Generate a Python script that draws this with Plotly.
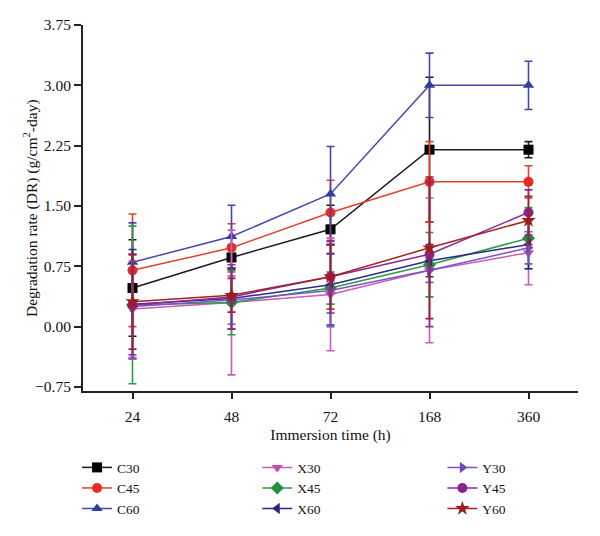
import plotly.graph_objects as go

times = ["24", "48", "72", "168", "360"]
y_ticks = [-0.75, 0.0, 0.75, 1.50, 2.25, 3.00, 3.75]

names = ["C30", "C45", "C60", "X30", "X45", "X60", "Y30", "Y45", "Y60"]

C30 = [0.48, 0.86, 1.21, 2.20, 2.20]
C30_err = [0.60, 0.15, 0.30, 0.90, 0.10]
C45 = [0.70, 0.98, 1.42, 1.80, 1.80]
C45_err = [0.70, 0.30, 0.40, 0.50, 0.20]
C60 = [0.80, 1.12, 1.65, 3.00, 3.00]
C60_err = [0.49, 0.39, 0.59, 0.40, 0.30]
X30 = [0.22, 0.30, 0.40, 0.70, 0.92]
X30_err = [0.60, 0.90, 0.70, 0.90, 0.40]
X45 = [0.27, 0.30, 0.48, 0.77, 1.10]
X45_err = [0.98, 0.40, 0.20, 0.40, 0.38]
X60 = [0.28, 0.35, 0.52, 0.82, 1.02]
X60_err = [0.68, 0.38, 0.50, 0.20, 0.30]
Y30 = [0.25, 0.33, 0.45, 0.70, 0.98]
Y30_err = [0.65, 0.30, 0.45, 0.15, 0.20]
Y45 = [0.27, 0.37, 0.62, 0.90, 1.42]
Y45_err = [0.62, 0.40, 0.45, 0.90, 0.28]
Y60 = [0.31, 0.39, 0.62, 0.98, 1.32]
Y60_err = [0.59, 0.21, 0.40, 0.88, 0.30]

values = [C30, C45, C60, X30, X45, X60, Y30, Y45, Y60]
errors = [C30_err, C45_err, C60_err, X30_err, X45_err, X60_err, Y30_err, Y45_err, Y60_err]

line_colors = ["#1a1a1a", "#e2412c", "#4a45a8", "#cc5cb8", "#2f9a45",
               "#2d2a86", "#7a55c4", "#8b2a98", "#a32222"]
marker_colors = ["#000000", "#e52b22", "#2e3f9e", "#c24fae", "#1f8f3f",
                 "#28247e", "#7048bd", "#8a2293", "#a01b1b"]
symbols = ["square", "circle", "triangle-up", "triangle-down", "diamond",
           "triangle-left", "triangle-right", "circle", "star"]
legends = ["legend", "legend", "legend", "legend2", "legend2", "legend2",
           "legend3", "legend3", "legend3"]

FONT = "Liberation Serif, Times New Roman, serif"

fig = go.Figure()
for i, n in enumerate(names):
    fig.add_trace(go.Scatter(
        x=times, y=values[i], name=n, mode="lines+markers",
        line=dict(color=line_colors[i], width=1.5),
        marker=dict(symbol=symbols[i], size=10 if symbols[i] != "star" else 11,
                    color=marker_colors[i], line=dict(width=0)),
        error_y=dict(type="data", array=errors[i], visible=True,
                     color=line_colors[i], thickness=1.6, width=4),
        legend=legends[i],
    ))

leg_common = dict(orientation="v", yanchor="top", xanchor="left", y=-0.167,
                  bgcolor="rgba(0,0,0,0)", font=dict(family=FONT, size=13.5, color="#111"),
                  tracegroupgap=0)

fig.update_layout(
    width=600, height=536,
    margin=dict(l=83, r=22, t=25, b=145, autoexpand=False),
    paper_bgcolor="white", plot_bgcolor="white",
    font=dict(family=FONT, size=15, color="#111"),
    showlegend=True,
    legend=dict(x=-0.012, **leg_common),
    legend2=dict(x=0.352, **leg_common),
    legend3=dict(x=0.726, **leg_common),
    xaxis=dict(
        type="category", range=[-0.5, 4.5],
        showline=True, linecolor="#222", linewidth=2,
        ticks="outside", ticklen=6, tickwidth=2, tickcolor="#222",
        ticklabelstandoff=4,
        showgrid=False, zeroline=False,
        tickfont=dict(family=FONT, size=15.5, color="#111"),
        title=dict(text="Immersion time (h)", font=dict(family=FONT, size=15.5, color="#111"),
                   standoff=6),
    ),
    yaxis=dict(
        range=[-0.8, 3.75],
        tickvals=y_ticks, tickformat=".2f",
        showline=True, linecolor="#222", linewidth=2,
        ticks="outside", ticklen=7, tickwidth=2, tickcolor="#222",
        showgrid=False, zeroline=False,
        tickfont=dict(family=FONT, size=15.5, color="#111"),
    ),
    annotations=[dict(
        text="Degradation rate (DR) (g/cm<sup>2</sup>-day)",
        xref="paper", yref="paper", x=-0.107, y=0.5,
        xanchor="center", yanchor="middle", textangle=-90, showarrow=False,
        font=dict(family=FONT, size=15.5, color="#111"),
    )],
)

fig.write_html("out.html")
